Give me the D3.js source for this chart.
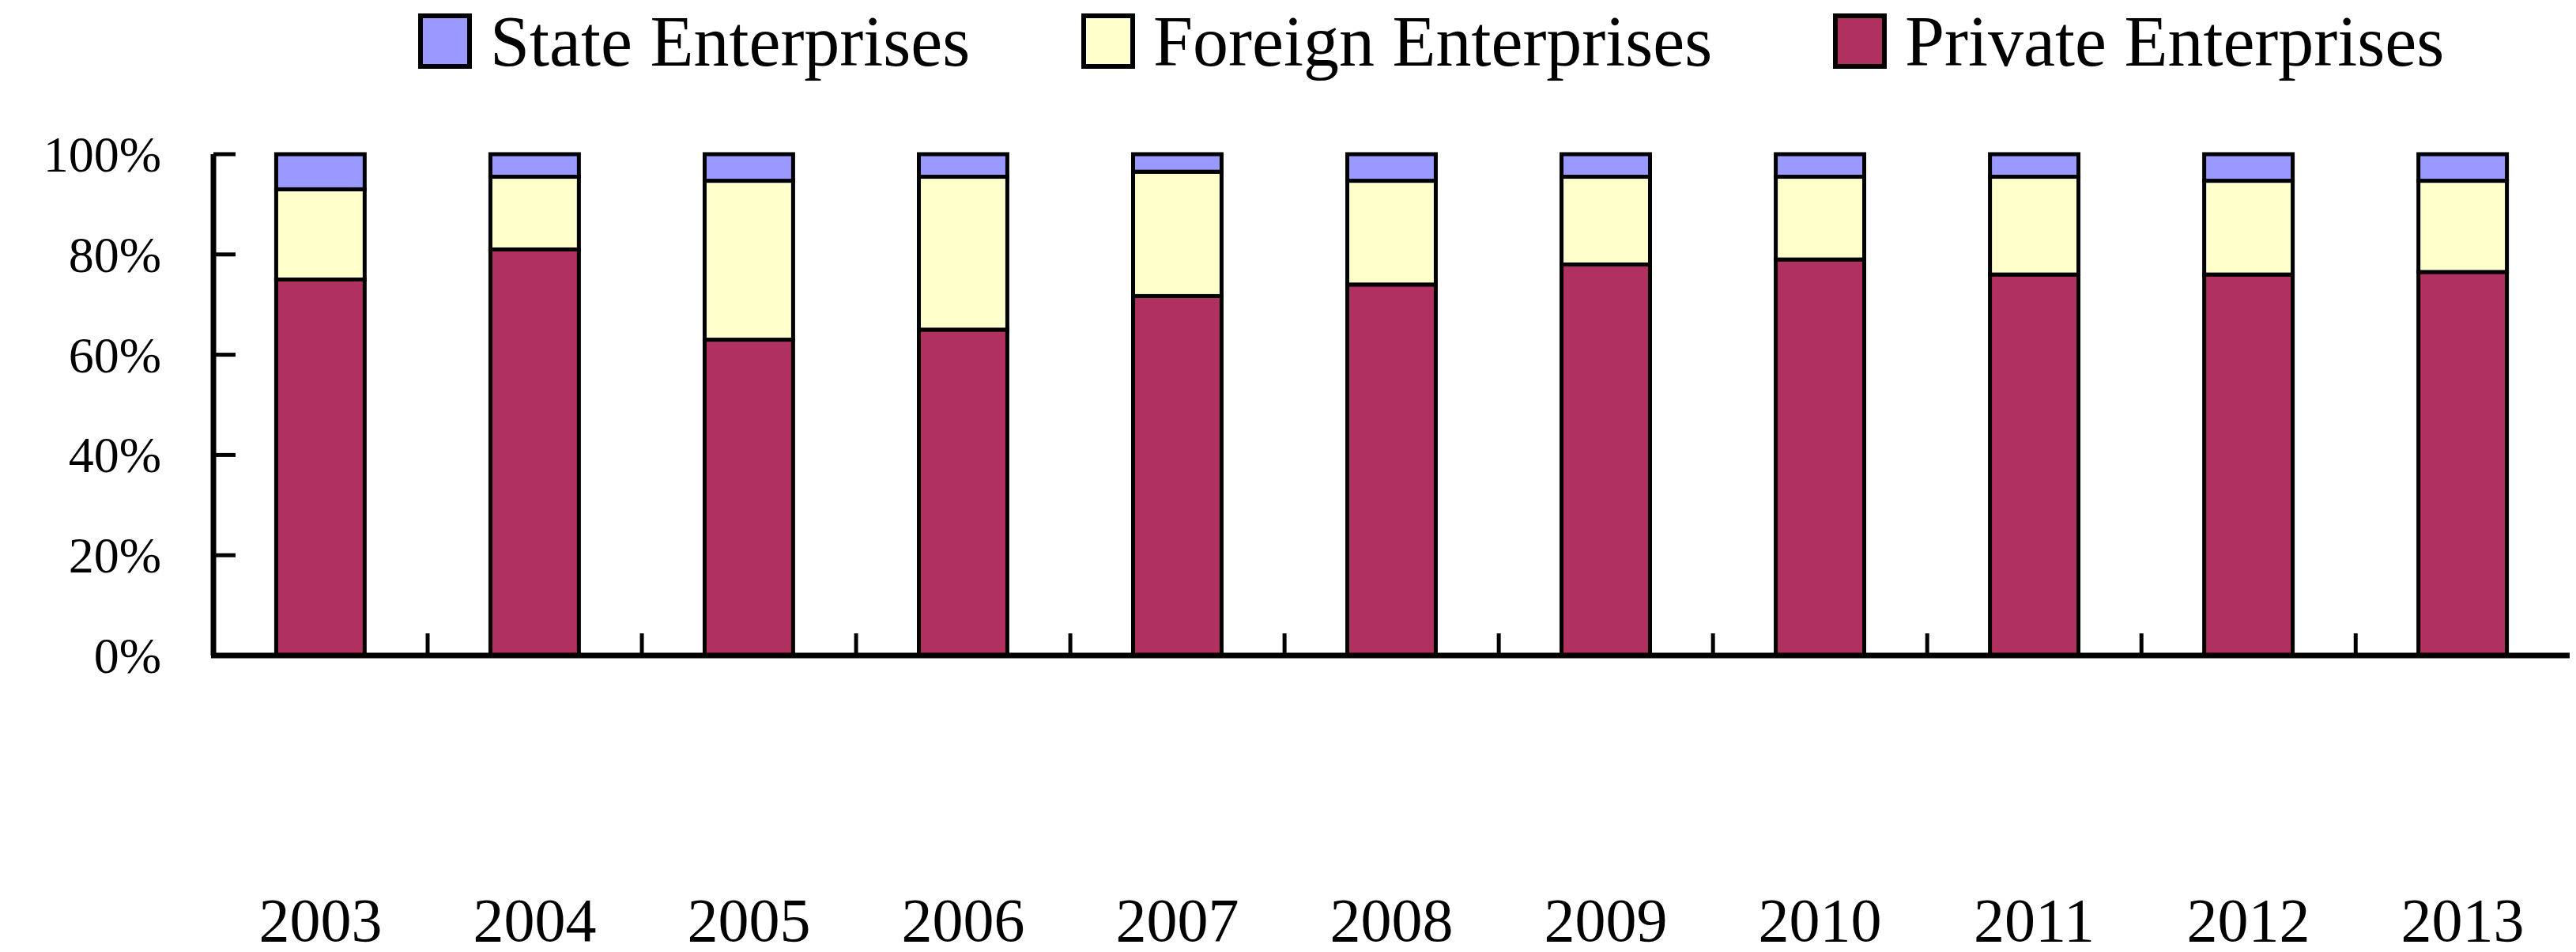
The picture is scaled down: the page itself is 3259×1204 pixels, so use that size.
<!DOCTYPE html>
<html><head><meta charset="utf-8">
<script src="https://cdn.jsdelivr.net/npm/d3@7"></script>
<style>body{margin:0;background:#fff}text{font-family:"Liberation Serif","Times New Roman",serif}</style>
</head><body><div id="chart"></div>
<script>
const years = ["2003","2004","2005","2006","2007","2008","2009","2010","2011","2012","2013"];
const privados = [75, 81, 63, 65, 71.7, 74, 78, 79, 76, 76, 76.5];
const extranjeros = [18, 14.5, 31.7, 30.5, 24.8, 20.7, 17.5, 16.5, 19.5, 18.7, 18.2];
const estatales = years.map((d, i) => 100 - privados[i] - extranjeros[i]);
const series = ["State Enterprises", "Foreign Enterprises", "Private Enterprises"];
const colores = ["#9999ff", "#ffffcc", "#b03060"];
const yTicks = [0, 20, 40, 60, 80, 100];

const ancho = 3259, alto = 1204;
const mIzq = 270, mDer = 3251, mSup = 195, mInf = 829;

const svg = d3.select("#chart").append("svg")
    .attr("width", ancho).attr("height", alto);

const x = d3.scaleBand().domain(years).range([mIzq, mDer]).paddingInner(0.587).paddingOuter(0.293);
const y = d3.scaleLinear().domain([0, 100]).range([mInf, mSup]);

const tabla = years.map((d, i) => ({year: d, priv: privados[i], ext: extranjeros[i], est: estatales[i]}));
const pila = d3.stack().keys(["priv", "ext", "est"])(tabla);
const colorDe = {priv: colores[2], ext: colores[1], est: colores[0]};

pila.forEach(capa => {
    svg.append("g").selectAll("rect").data(capa).enter().append("rect")
        .attr("x", d => x(d.data.year))
        .attr("width", x.bandwidth())
        .attr("y", d => y(d[1]))
        .attr("height", d => y(d[0]) - y(d[1]))
        .attr("fill", colorDe[capa.key])
        .attr("stroke", "#000").attr("stroke-width", 5);
});

// Eje Y
svg.append("line").attr("x1", mIzq).attr("x2", mIzq).attr("y1", mSup).attr("y2", mInf)
    .attr("stroke", "#000").attr("stroke-width", 7);
svg.append("g").selectAll("line").data(yTicks).enter().append("line")
    .attr("x1", mIzq).attr("x2", mIzq + 28)
    .attr("y1", d => y(d)).attr("y2", d => y(d))
    .attr("stroke", "#000").attr("stroke-width", 5);
svg.append("g").selectAll("text").data(yTicks).enter().append("text")
    .attr("x", 204).attr("y", d => y(d) + 22)
    .attr("text-anchor", "end").style("font-size", "64px")
    .text(d => d + "%");

// Eje X
svg.append("line").attr("x1", mIzq - 3).attr("x2", mDer).attr("y1", mInf).attr("y2", mInf)
    .attr("stroke", "#000").attr("stroke-width", 7);
const paso = x.step();
svg.append("g").selectAll("line").data(years.slice(1)).enter().append("line")
    .attr("x1", d => x(d) - paso * 0.293).attr("x2", d => x(d) - paso * 0.293)
    .attr("y1", mInf).attr("y2", mInf - 28)
    .attr("stroke", "#000").attr("stroke-width", 5);
svg.append("g").selectAll("text").data(years).enter().append("text")
    .attr("x", d => x(d) + x.bandwidth() / 2).attr("y", 1190)
    .attr("text-anchor", "middle").style("font-size", "78px")
    .text(d => d);

// Leyenda
const leyX = [532, 1371, 2322];
const ley = svg.append("g").selectAll("g").data(series).enter().append("g");
ley.append("rect")
    .attr("x", (d, i) => leyX[i]).attr("y", 20).attr("width", 62).attr("height", 64)
    .attr("fill", (d, i) => colores[i]).attr("stroke", "#000").attr("stroke-width", 6);
ley.append("text")
    .attr("x", (d, i) => leyX[i] + 88).attr("y", 83)
    .style("font-size", "90px")
    .text(d => d);
</script></body></html>
